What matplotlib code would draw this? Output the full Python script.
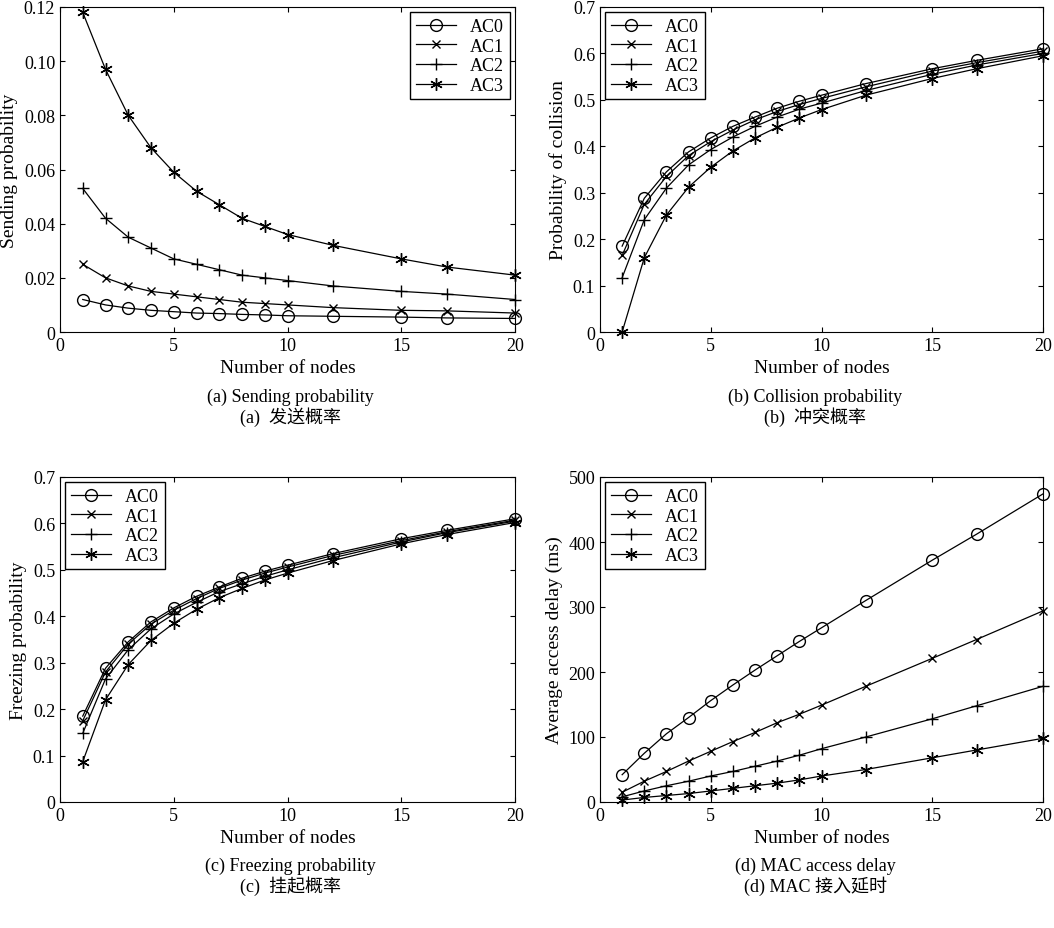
import matplotlib
matplotlib.use("Agg")
import matplotlib.pyplot as plt
from matplotlib.ticker import FuncFormatter

plt.rcParams["font.family"] = ["Liberation Serif", "Noto Sans CJK SC"]
plt.rcParams["font.size"] = 13

nodes = [1, 2, 3, 4, 5, 6, 7, 8, 9, 10, 12, 15, 17, 20]
labels = ["AC0", "AC1", "AC2", "AC3"]

send = [
    [0.012, 0.010, 0.0088, 0.008, 0.0075, 0.007, 0.0068, 0.0065, 0.0063, 0.006, 0.0058, 0.0055, 0.0052, 0.005],
    [0.025, 0.020, 0.017, 0.015, 0.014, 0.013, 0.012, 0.011, 0.0105, 0.010, 0.009, 0.008, 0.0078, 0.007],
    [0.053, 0.042, 0.035, 0.031, 0.027, 0.025, 0.023, 0.021, 0.020, 0.019, 0.017, 0.015, 0.014, 0.012],
    [0.118, 0.097, 0.080, 0.068, 0.059, 0.052, 0.047, 0.042, 0.039, 0.036, 0.032, 0.027, 0.024, 0.021],
]
collision = [
    [0.185, 0.288, 0.345, 0.388, 0.418, 0.443, 0.463, 0.482, 0.497, 0.51, 0.535, 0.567, 0.585, 0.61],
    [0.165, 0.275, 0.335, 0.38, 0.41, 0.435, 0.457, 0.475, 0.49, 0.503, 0.528, 0.562, 0.58, 0.605],
    [0.117, 0.242, 0.31, 0.36, 0.393, 0.42, 0.443, 0.463, 0.48, 0.493, 0.52, 0.555, 0.575, 0.6],
    [0.0, 0.16, 0.252, 0.312, 0.355, 0.39, 0.418, 0.441, 0.461, 0.479, 0.51, 0.546, 0.567, 0.595],
]
freezing = [
    [0.185, 0.288, 0.345, 0.388, 0.418, 0.443, 0.463, 0.482, 0.497, 0.51, 0.535, 0.567, 0.585, 0.61],
    [0.175, 0.28, 0.34, 0.383, 0.413, 0.438, 0.46, 0.478, 0.493, 0.506, 0.531, 0.563, 0.582, 0.607],
    [0.148, 0.265, 0.328, 0.373, 0.405, 0.43, 0.453, 0.47, 0.486, 0.5, 0.526, 0.56, 0.58, 0.605],
    [0.087, 0.22, 0.296, 0.348, 0.385, 0.415, 0.44, 0.46, 0.478, 0.493, 0.52, 0.556, 0.576, 0.602],
]
delay = [
    [42, 75, 105, 130, 156, 180, 203, 225, 247, 268, 310, 372, 412, 474],
    [15, 32, 47, 63, 78, 93, 107, 122, 135, 149, 178, 221, 250, 294],
    [8, 17, 25, 32, 40, 47, 55, 63, 72, 82, 100, 128, 148, 178],
    [3, 7, 10, 13, 17, 21, 25, 29, 34, 40, 50, 68, 80, 98],
]

markers = [dict(marker="o", mfc="none", ms=8.5), dict(marker="x", ms=6),
           dict(marker="+", ms=9), dict(marker=(6, 2, 0), ms=9)]

W, H = 1054, 929
fig = plt.figure(figsize=(W / 100, H / 100), dpi=100)


def mkax(l, t, r, b):
    return fig.add_axes([l / W, 1 - b / H, (r - l) / W, (b - t) / H])


panels = [
    (mkax(60, 8, 515, 333), send, (0, 0.12), [0, 0.02, 0.04, 0.06, 0.08, 0.10, 0.12],
     "Sending probability", "upper right", "{:.2f}"),
    (mkax(600, 8, 1043, 333), collision, (0, 0.7), [i / 10 for i in range(8)],
     "Probability of collision", "upper left", "{:.1f}"),
    (mkax(60, 478, 515, 803), freezing, (0, 0.7), [i / 10 for i in range(8)],
     "Freezing probability", "upper left", "{:.1f}"),
    (mkax(600, 478, 1043, 803), delay, (0, 500), [0, 100, 200, 300, 400, 500],
     "Average access delay (ms)", "upper left", "{:.0f}"),
]

for ax, data, ylim, yt, ylab, loc, f in panels:
    for series, lab, mk in zip(data, labels, markers):
        ax.plot(nodes, series, color="black", lw=0.9, mec="black", label=lab,
                clip_on=False, **mk)
    ax.set_xlim(0, 20)
    ax.set_ylim(*ylim)
    ax.set_xticks([0, 5, 10, 15, 20])
    ax.set_yticks(yt)
    ax.yaxis.set_major_formatter(FuncFormatter(lambda v, _, f=f: "0" if v == 0 else f.format(v)))
    ax.tick_params(direction="in", top=True, right=True, labelsize=13)
    ax.set_xlabel("Number of nodes", fontsize=14)
    ax.set_ylabel(ylab, fontsize=14)
    ax.legend(loc=loc, fontsize=13, fancybox=False, edgecolor="black", framealpha=1,
              borderaxespad=0.3, handlelength=2.2, labelspacing=0.15, borderpad=0.3)

captions = [
    (290, 397, "(a) Sending probability", 417, "(a)  发送概率"),
    (815, 397, "(b) Collision probability", 417, "(b)  冲突概率"),
    (290, 866, "(c) Freezing probability", 886, "(c)  挂起概率"),
    (815, 866, "(d) MAC access delay", 886, "(d) MAC 接入延时"),
]
for x, y1, t1, y2, t2 in captions:
    fig.text(x / W, 1 - y1 / H, t1, ha="center", va="center", fontsize=13)
    fig.text(x / W, 1 - y2 / H, t2, ha="center", va="center", fontsize=13)

fig.savefig("out.png", dpi=100)
